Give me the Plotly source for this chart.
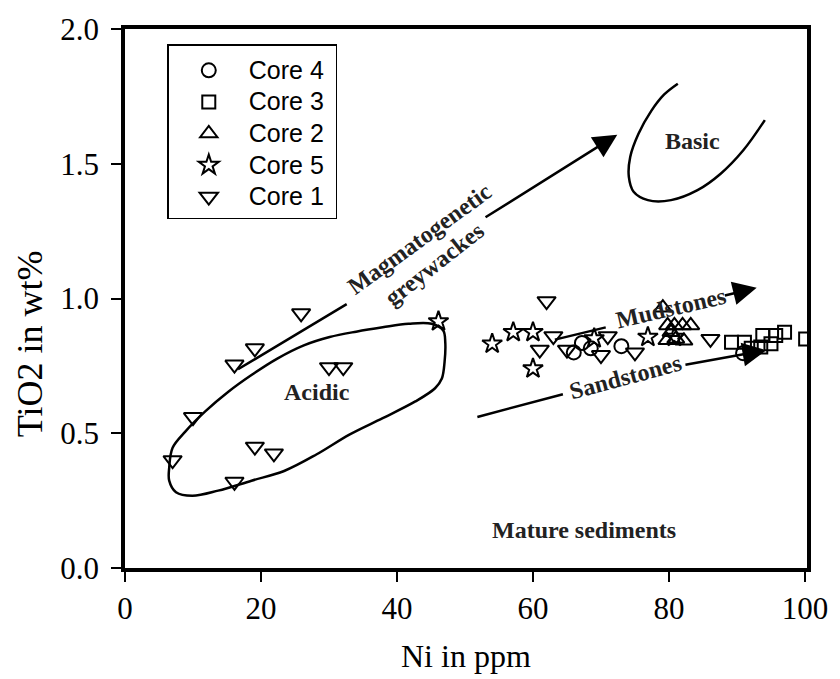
import plotly.graph_objects as go

# ---- sample data: Ni (ppm) vs TiO2 (wt%) ----
core4_ni = [66.0, 67.2, 68.5, 73.0, 90.9]
core4_ti = [0.80, 0.835, 0.815, 0.823, 0.797]

core3_ni = [89.2, 91.1, 92.1, 93.5, 93.8, 95.0, 95.7, 97.0, 100.1]
core3_ti = [0.838, 0.838, 0.815, 0.82, 0.863, 0.832, 0.863, 0.875, 0.85]

core2_ni = [79.1, 79.8, 80.8, 82.0, 83.2, 79.7, 81.0, 82.2, 80.3]
core2_ti = [0.966, 0.90, 0.90, 0.90, 0.90, 0.845, 0.85, 0.843, 0.875]

core5_ni = [46.1, 54.0, 57.1, 60.0, 60.0, 69.0, 76.9, 80.8]
core5_ti = [0.915, 0.832, 0.875, 0.875, 0.74, 0.852, 0.857, 0.857]

core1_ni = [7.0, 10.0, 16.1, 16.1, 19.1, 19.1, 21.9, 25.9, 30.0, 32.1,
            61.0, 62.0, 63.0, 65.0, 70.0, 71.0, 75.0, 86.1]
core1_ti = [0.40, 0.56, 0.32, 0.755, 0.815, 0.45, 0.425, 0.945, 0.745, 0.745,
            0.81, 0.99, 0.86, 0.81, 0.79, 0.86, 0.80, 0.85]

# ---- provenance field outlines ----
acidic_ni = [7.0, 8.9, 11.8, 15.2, 18.6, 22.4, 26.3, 30.1, 34.0, 37.9, 41.7, 45.1,
             46.8, 47.1, 47.0, 46.6, 45.6, 42.7, 37.9, 33.0, 28.2, 23.4, 18.6,
             13.7, 9.9, 7.5, 6.5, 6.5, 7.0]
acidic_ti = [0.446, 0.507, 0.581, 0.654, 0.716, 0.777, 0.826, 0.857, 0.877, 0.893,
             0.906, 0.906, 0.881, 0.838, 0.765, 0.703, 0.667, 0.618, 0.556, 0.495,
             0.422, 0.360, 0.324, 0.287, 0.268, 0.281, 0.324, 0.372, 0.446]

basic_ni = [81.3, 79.3, 77.4, 75.5, 74.3, 74.1, 74.8, 76.9, 80.3, 84.2, 87.6, 90.9, 94.1]
basic_ti = [1.797, 1.757, 1.696, 1.610, 1.525, 1.451, 1.396, 1.365, 1.365, 1.402,
            1.463, 1.549, 1.662]

# trend lines: (start Ni, start TiO2, end Ni, end TiO2, arrowhead)
trend_segments = [
    (16.4, 0.734, 32.6, 0.979, False),   # magmatogenetic greywackes, tail
    (52.8, 1.298, 72.4, 1.608, True),    # magmatogenetic greywackes, head
    (63.0, 0.846, 70.7, 0.893, False),   # mudstones, tail
    (88.0, 1.010, 92.9, 1.040, True),    # mudstones, head
    (51.6, 0.559, 64.4, 0.645, False),   # sandstones, tail
    (82.2, 0.753, 94.3, 0.808, True),    # sandstones, head
]

# field labels: (text, Ni, TiO2, angle)
field_labels = [
    ("Acidic", 28.2, 0.652, 0),
    ("Basic", 83.5, 1.585, 0),
    ("Mature sediments", 67.5, 0.14, 0),
    ("Magmatogenetic", 43.3, 1.222, -36),
    ("greywackes", 45.5, 1.129, -38),
    ("Mudstones", 80.3, 0.965, -13),
    ("Sandstones", 73.6, 0.71, -15),
]

SERIF = "Liberation Serif, Times New Roman, serif"
SANS = "Liberation Sans, Arial, sans-serif"

fig = go.Figure()

# field outlines (drawn first so the samples sit on top)
fig.add_trace(go.Scatter(x=acidic_ni, y=acidic_ti, mode="lines",
                         line=dict(color="black", width=2.5, shape="spline", smoothing=1.0),
                         showlegend=False, hoverinfo="skip"))
fig.add_trace(go.Scatter(x=basic_ni, y=basic_ti, mode="lines",
                         line=dict(color="black", width=2.5, shape="spline", smoothing=1.0),
                         showlegend=False, hoverinfo="skip"))

series = [
    ("Core 4", core4_ni, core4_ti, "circle-open", 14),
    ("Core 3", core3_ni, core3_ti, "square-open", 13),
    ("Core 2", core2_ni, core2_ti, "triangle-up-open", 15),
    ("Core 5", core5_ni, core5_ti, "star-open", 15),
    ("Core 1", core1_ni, core1_ti, "triangle-down-open", 16),
]
for name, xs, ys, sym, size in series:
    fig.add_trace(go.Scatter(
        x=xs, y=ys, mode="markers",
        name=f'<span style="font-size:25px">{name}&nbsp;</span>',
        marker=dict(symbol=sym, size=size, color="black",
                    line=dict(color="black", width=2)),
    ))

annotations = []
for x0, y0, x1, y1, head in trend_segments:
    annotations.append(dict(
        x=x1, y=y1, ax=x0, ay=y0, xref="x", yref="y", axref="x", ayref="y",
        text="", showarrow=True, arrowhead=2 if head else 0,
        arrowsize=1.9, arrowwidth=2.5, arrowcolor="black", standoff=0,
    ))
for txt, x, y, ang in field_labels:
    annotations.append(dict(
        x=x, y=y, xref="x", yref="y", text=f"<b>{txt}</b>", showarrow=False,
        textangle=ang, font=dict(family=SERIF, size=24, color="#222222"),
        xanchor="center", yanchor="middle",
    ))

# axis titles
annotations.append(dict(x=0.5, y=-0.164, xref="paper", yref="paper",
                        text="Ni in ppm", showarrow=False,
                        font=dict(family=SERIF, size=32, color="black"),
                        xanchor="center", yanchor="middle"))
annotations.append(dict(x=-0.14, y=0.416, xref="paper", yref="paper",
                        text="TiO2 in wt%", showarrow=False, textangle=-90,
                        font=dict(family=SERIF, size=36, color="black"),
                        xanchor="center", yanchor="middle"))

axis_common = dict(
    showline=True, linewidth=3.5, linecolor="black", mirror=True,
    ticks="outside", ticklen=10, tickwidth=2, tickcolor="black",
    showgrid=False, zeroline=False,
    tickfont=dict(family=SERIF, size=31, color="black"),
)

fig.update_layout(
    width=840, height=679,
    margin=dict(l=125, r=22, t=25, b=111),
    paper_bgcolor="white", plot_bgcolor="white",
    xaxis=dict(range=[0, 100.3], tickvals=[0, 20, 40, 60, 80, 100],
               ticklabelstandoff=0, **axis_common),
    yaxis=dict(range=[0, 2.0], tickvals=[0, 0.5, 1.0, 1.5, 2.0], tickformat=".1f",
               ticklabelstandoff=6, **axis_common),
    legend=dict(x=0.062, y=0.972, xanchor="left", yanchor="top",
                bgcolor="white", bordercolor="black", borderwidth=1.5,
                font=dict(family=SANS, size=22, color="black"),
                title=dict(text=" ", font=dict(size=3)),
                itemwidth=70, tracegroupgap=0),
    annotations=annotations,
    showlegend=True,
)

fig.write_html("out.html")
